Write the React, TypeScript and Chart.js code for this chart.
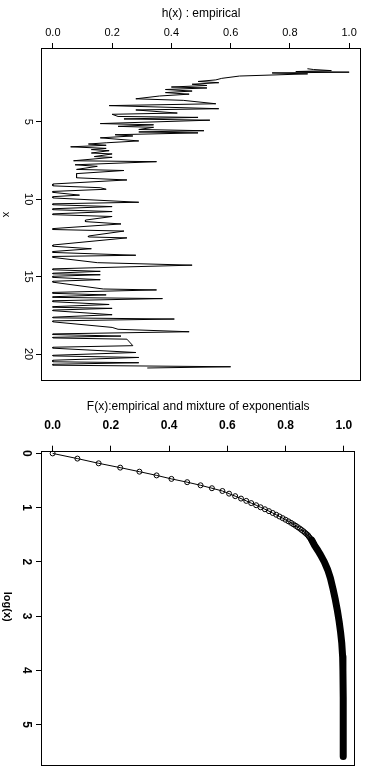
import React, { useEffect, useRef } from "react";
import { Chart, registerables } from "chart.js";

Chart.register(...registerables);

const FONT = "'Liberation Sans', Arial, Helvetica, sans-serif";

// ---------- top panel: h(x) empirical ----------
const hxX = [
  1.58, 1.63, 1.70, 1.76, 1.80, 1.85, 1.91, 2.05, 2.20, 2.30,
  2.40, 2.48, 2.58, 2.66, 2.76, 2.82, 2.92, 3.02, 3.12, 3.22,
  3.34, 3.52, 3.62, 3.84, 3.96, 4.16, 4.24, 4.44, 4.52, 4.66,
  4.72, 4.82, 4.90, 5.12, 5.20, 5.30, 5.36, 5.50, 5.58, 5.66,
  5.72, 5.84, 5.92, 6.04, 6.24, 6.36, 6.44, 6.52, 6.62, 6.72,
  6.80, 6.87, 7.02, 7.08, 7.25, 7.30, 7.52, 7.58, 7.78, 7.88,
  8.08, 8.15, 8.35, 8.62, 8.76, 9.02, 9.14, 9.26, 9.36, 9.50,
  9.56, 9.74, 9.84, 9.92, 10.20, 10.30, 10.36, 10.48, 10.62, 10.68,
  10.80, 10.95, 11.00, 11.12, 11.35, 11.45, 11.60, 11.90, 11.96, 12.06,
  12.38, 12.44, 12.50, 12.96, 13.04, 13.20, 13.38, 13.44, 13.62, 13.70,
  13.76, 14.10, 14.26, 14.50, 14.56, 14.66, 14.78, 14.82, 14.88, 14.98,
  15.05, 15.20, 15.30, 15.36, 15.80, 15.86, 16.02, 16.08, 16.18, 16.30,
  16.34, 16.42, 16.56, 16.62, 16.80, 16.94, 16.98, 17.05, 17.16, 17.20,
  17.46, 17.62, 17.66, 17.74, 17.86, 17.92, 18.28, 18.40, 18.56, 18.70,
  18.74, 18.84, 18.92, 18.96, 19.04, 19.46, 19.56, 19.62, 19.90, 20.08,
  20.12, 20.22, 20.40, 20.50, 20.56, 20.66, 20.72, 20.82, 20.90,
];
const hxH = [
  0.86, 0.88, 0.94, 0.82, 1.00, 0.74, 0.86, 0.63, 0.57, 0.55,
  0.49, 0.56, 0.47, 0.52, 0.40, 0.52, 0.38, 0.47, 0.38, 0.46,
  0.36, 0.28, 0.44, 0.55, 0.19, 0.56, 0.28, 0.42, 0.20, 0.22,
  0.49, 0.24, 0.53, 0.16, 0.34, 0.22, 0.34, 0.29, 0.51, 0.29,
  0.49, 0.21, 0.27, 0.16, 0.29, 0.18, 0.12, 0.18, 0.06, 0.18,
  0.13, 0.19, 0.13, 0.20, 0.14, 0.20, 0.07, 0.35, 0.075, 0.15,
  0.08, 0.24, 0.08, 0.08, 0.25, 0, 0, 0.16, 0.18, 0,
  0, 0.09, 0, 0, 0.29, 0, 0, 0.20, 0, 0,
  0.20, 0, 0, 0.20, 0.11, 0.11, 0.23, 0, 0, 0.24,
  0.12, 0.12, 0.25, 0, 0, 0.13, 0, 0, 0.28, 0,
  0, 0.15, 0.47, 0, 0, 0.16, 0, 0, 0.16, 0,
  0, 0.16, 0, 0, 0.17, 0.35, 0, 0, 0.18, 0,
  0, 0.37, 0, 0, 0.19, 0, 0, 0.20, 0, 0,
  0.20, 0, 0, 0.41, 0, 0, 0.20, 0.22, 0.46, 0,
  0, 0.23, 0, 0, 0.25, 0.27, 0, 0, 0.28, 0,
  0, 0.29, 0, 0, 0.29, 0, 0, 0.60, 0.32,
];
const hAxisTicks = [0, 0.2, 0.4, 0.6, 0.8, 1.0];
const xAxisTicks = [5, 10, 15, 20];

// ---------- bottom panel: F(x) vs log(x) ----------
const circLogX = [
  0, 0.0953, 0.1823, 0.2624, 0.3365, 0.4055, 0.47, 0.5306, 0.5878, 0.6419,
  0.6931, 0.7419, 0.7885, 0.8329, 0.8755, 0.9163, 0.9555, 0.9933, 1.0296, 1.0647,
  1.0986, 1.1314, 1.1632, 1.1939, 1.2238, 1.2528, 1.2809, 1.3083, 1.335, 1.361,
  1.3863, 1.411, 1.4351, 1.4586, 1.4816, 1.5041, 1.5261, 1.5476, 1.5686, 1.5892,
  1.6094, 1.6292, 1.6487, 1.6677, 1.6864, 1.7047, 1.7228, 1.7405, 1.7579, 1.775,
  1.7918,
];
const circF = [
  0, 0.085, 0.158, 0.232, 0.298, 0.357, 0.408, 0.462, 0.508, 0.547,
  0.583, 0.606, 0.627, 0.647, 0.665, 0.682, 0.699, 0.714, 0.729, 0.743,
  0.756, 0.768, 0.779, 0.79, 0.8, 0.81, 0.819, 0.827, 0.835, 0.842,
  0.849, 0.855, 0.861, 0.866, 0.871, 0.876, 0.879, 0.882, 0.885, 0.888,
  0.891, 0.893, 0.895, 0.897, 0.899, 0.901, 0.903, 0.905, 0.907, 0.909,
  0.911,
];
const bandLogX = [
  1.6, 1.7, 1.79, 1.87, 2.0, 2.15, 2.3, 2.5,
  2.7, 2.9, 3.1, 3.3, 3.5, 3.75, 4.0, 4.5, 5.0, 5.3, 5.59,
];
const bandF = [
  0.89, 0.9, 0.911, 0.92, 0.933, 0.945, 0.954, 0.963,
  0.971, 0.978, 0.984, 0.989, 0.993, 0.996, 0.997, 0.998, 0.998, 0.998, 0.998,
];
const fAxisTicks = [0, 0.2, 0.4, 0.6, 0.8, 1.0];
const logAxisTicks = [0, 1, 2, 3, 4, 5];

type Spec = {
  title: string;
  titlePadTop: number;
  xAxisHeight: number;
  tickFont: any;
  xTickPad: number;
  yTickPad: number;
  yMin: number;
  yMax: number;
  xTicks: number[];
  yTicks: number[];
  yTitle: string;
  yTitleFont: string;
  yTitleX: number;
  yTitleOffset: number;
  padBottom: number;
  datasets: any[];
};

function buildChart(canvas: HTMLCanvasElement, s: Spec) {
  const frame = {
    id: "frame",
    afterDatasetsDraw(chart: any) {
      const { ctx, chartArea: a } = chart;
      ctx.save();
      ctx.strokeStyle = "#000";
      ctx.lineWidth = 1;
      const l = Math.round(a.left) + 0.5;
      const t = Math.round(a.top) + 0.5;
      const r = Math.round(a.right) - 0.5;
      const b = Math.round(a.bottom) - 0.5;
      ctx.strokeRect(l, t, r - l, b - t);
      ctx.translate(s.yTitleX, a.top + s.yTitleOffset);
      ctx.rotate(Math.PI / 2);
      ctx.font = s.yTitleFont;
      ctx.fillStyle = "#000";
      ctx.textAlign = "center";
      ctx.textBaseline = "middle";
      ctx.fillText(s.yTitle, 0, 0);
      ctx.restore();
    },
  };
  return new Chart(canvas, {
    type: "scatter",
    data: { datasets: s.datasets },
    options: {
      animation: false,
      responsive: false,
      maintainAspectRatio: false,
      events: [],
      layout: { padding: { left: 0, right: 4, top: 0, bottom: s.padBottom } },
      plugins: {
        legend: { display: false },
        tooltip: { enabled: false },
        title: {
          display: true,
          text: s.title,
          fullSize: false,
          color: "#000",
          font: { family: FONT, size: 12, weight: "normal", lineHeight: 1.2 },
          padding: { top: s.titlePadTop, bottom: 0 },
        },
      },
      scales: {
        x: {
          type: "linear",
          position: "top",
          min: -0.04,
          max: 1.04,
          afterBuildTicks: (sc: any) => {
            sc.ticks = s.xTicks.map((v) => ({ value: v }));
          },
          afterFit: (sc: any) => {
            sc.height = s.xAxisHeight;
          },
          ticks: {
            color: "#000",
            font: s.tickFont,
            padding: s.xTickPad,
            maxRotation: 0,
            minRotation: 0,
            autoSkip: false,
            callback: (v: any) => Number(v).toFixed(1),
          },
          grid: { drawOnChartArea: false, drawTicks: true, tickLength: 5, color: "#000", lineWidth: 1 },
          border: { display: false },
        },
        y: {
          type: "linear",
          position: "left",
          reverse: true,
          min: s.yMin,
          max: s.yMax,
          afterBuildTicks: (sc: any) => {
            sc.ticks = s.yTicks.map((v) => ({ value: v }));
          },
          afterFit: (sc: any) => {
            sc.width = 41;
          },
          ticks: {
            color: "#000",
            font: s.tickFont,
            padding: s.yTickPad,
            minRotation: -90,
            maxRotation: -90,
            crossAlign: "center",
            autoSkip: false,
            callback: (v: any) => String(v),
          },
          grid: { drawOnChartArea: false, drawTicks: true, tickLength: 5, color: "#000", lineWidth: 1 },
          border: { display: false },
        },
      },
    },
    plugins: [frame],
  } as any);
}

export default function App() {
  const topRef = useRef<HTMLCanvasElement | null>(null);
  const botRef = useRef<HTMLCanvasElement | null>(null);

  useEffect(() => {
    const c1 = buildChart(topRef.current!, {
      title: "h(x) : empirical",
      titlePadTop: 6,
      xAxisHeight: 48 - 20.4,
      tickFont: { family: FONT, size: 11, weight: "normal", lineHeight: 1.2 },
      xTickPad: 3,
      yTickPad: 2,
      yMin: 0.24,
      yMax: 21.74,
      xTicks: hAxisTicks,
      yTicks: xAxisTicks,
      yTitle: "x",
      yTitleFont: `normal 11px ${FONT}`,
      yTitleX: 6,
      yTitleOffset: 166.5,
      padBottom: 9,
      datasets: [
        {
          data: hxX.map((x, i) => ({ x: hxH[i], y: x })),
          showLine: true,
          borderColor: "#000",
          borderWidth: 1,
          pointRadius: 0,
          borderJoinStyle: "round",
          borderCapStyle: "round",
          tension: 0,
        },
      ],
    });
    const c2 = buildChart(botRef.current!, {
      title: "F(x):empirical and mixture of exponentials",
      titlePadTop: 9.3,
      xAxisHeight: 37,
      tickFont: { family: FONT, size: 12, weight: "bold", lineHeight: 1.2 },
      xTickPad: 12.5,
      yTickPad: 6.5,
      yMin: -0.05,
      yMax: 5.77,
      xTicks: fAxisTicks,
      yTicks: logAxisTicks,
      yTitle: "log(x)",
      yTitleFont: `bold 11px ${FONT}`,
      yTitleX: 7,
      yTitleOffset: 156,
      padBottom: 8,
      datasets: [
        {
          data: bandLogX.map((lx, i) => ({ x: bandF[i], y: lx })),
          showLine: true,
          borderColor: "#000",
          borderWidth: 7,
          pointRadius: 0,
          borderJoinStyle: "round",
          borderCapStyle: "round",
          tension: 0,
        },
        {
          data: circLogX.map((lx, i) => ({ x: circF[i], y: lx })),
          showLine: true,
          borderColor: "#000",
          borderWidth: 1,
          pointRadius: 2.5,
          pointBorderWidth: 1,
          pointBorderColor: "#000",
          pointBackgroundColor: "rgba(0,0,0,0)",
          tension: 0,
        },
      ],
    });
    return () => {
      c1.destroy();
      c2.destroy();
    };
  }, []);

  return (
    <div
      style={{
        position: "fixed",
        left: 0,
        top: 0,
        width: 365,
        height: 769,
        overflow: "hidden",
        background: "#fff",
      }}
    >
      <canvas
        ref={topRef}
        width={365}
        height={390}
        style={{ position: "absolute", left: 0, top: 0, width: 365, height: 390, display: "block" }}
      />
      <canvas
        ref={botRef}
        width={365}
        height={390}
        style={{ position: "absolute", left: 0, top: 390, width: 365, height: 390, display: "block" }}
      />
    </div>
  );
}
